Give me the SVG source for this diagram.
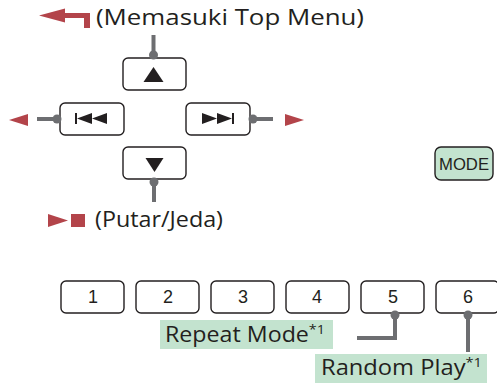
<svg xmlns="http://www.w3.org/2000/svg" width="497" height="383" viewBox="0 0 497 383">
<style>
.btn{fill:#fff;stroke:#231f20;stroke-width:1.4}
.mode{fill:#c3e3cf;stroke:#231f20;stroke-width:1.4}
.lbl{fill:#c3e3cf}
.t{font-family:"Open Sans","Noto Sans",sans-serif;font-size:21px;fill:#231f20}
.n{font-family:"Liberation Sans",Arial,sans-serif;font-size:18px;fill:#231f20;text-anchor:middle}
.m{font-family:"Liberation Sans",Arial,sans-serif;font-size:17px;fill:#231f20;text-anchor:middle}
.icon{fill:#231f20}
.red{fill:#b3444a}
.wire{stroke:#6d6e71;stroke-width:4;fill:none}
.dot{fill:#6d6e71}
</style>
<g id="top-menu-label">
<path class="red" d="M39,15.5 L65,8.5 L65,13 L90,13 L90,28 L84,28 L84,18 L65,18 L65,22.5 Z"/>
<text class="t" x="96" y="25" textLength="268" lengthAdjust="spacingAndGlyphs">(Memasuki Top Menu)</text>
</g>
<g id="btn-up">
<rect class="btn" x="123" y="58" width="63" height="32" rx="5"/>
<polygon class="icon" points="153.5,67 163.5,82 143.5,82"/>
</g>
<g id="btn-prev">
<rect class="btn" x="60" y="103" width="64" height="32" rx="5"/>
<rect class="icon" x="75" y="113" width="2" height="11"/>
<polygon class="icon" points="77,118.5 92,113 92,124"/>
<polygon class="icon" points="92,118.5 107,113 107,124"/>
</g>
<g id="btn-next">
<rect class="btn" x="186" y="103" width="64" height="32" rx="5"/>
<polygon class="icon" points="202,113 217,118.5 202,124"/>
<polygon class="icon" points="217,113 232,118.5 217,124"/>
<rect class="icon" x="232" y="113" width="2" height="11"/>
</g>
<g id="btn-down">
<rect class="btn" x="123" y="147" width="63" height="32" rx="5"/>
<polygon class="icon" points="145.5,158 163.5,158 154.5,172"/>
</g>
<g id="play-pause-label">
<polygon class="red" points="48,214 68,220.5 48,227"/>
<rect class="red" x="71" y="214" width="14" height="13"/>
<text class="t" x="95" y="227" textLength="128" lengthAdjust="spacingAndGlyphs">(Putar/Jeda)</text>
</g>
<g id="prev-arrow"><polygon class="red" points="9,120 28,114 28,126"/></g>
<g id="next-arrow"><polygon class="red" points="304,120 285,114 285,126"/></g>
<g id="btn-mode">
<rect class="mode" x="435" y="147" width="58" height="33" rx="6"/>
<text class="m" x="464" y="169.5" textLength="50" lengthAdjust="spacingAndGlyphs">MODE</text>
</g>
<g id="btn-1"><rect class="btn" x="61" y="281" width="63" height="32" rx="5"/><text class="n" x="93" y="303">1</text></g>
<g id="btn-2"><rect class="btn" x="136" y="281" width="63" height="32" rx="5"/><text class="n" x="168" y="303">2</text></g>
<g id="btn-3"><rect class="btn" x="211" y="281" width="63" height="32" rx="5"/><text class="n" x="243" y="303">3</text></g>
<g id="btn-4"><rect class="btn" x="286" y="281" width="63" height="32" rx="5"/><text class="n" x="317" y="303">4</text></g>
<g id="btn-5"><rect class="btn" x="361" y="281" width="63" height="32" rx="5"/><text class="n" x="393" y="303">5</text></g>
<g id="btn-6"><rect class="btn" x="436" y="281" width="63" height="32" rx="5"/><text class="n" x="468" y="303">6</text></g>
<g id="repeat-label">
<rect class="lbl" x="160" y="320" width="173" height="29"/>
<text class="t" x="165" y="342" textLength="160" lengthAdjust="spacingAndGlyphs">Repeat Mode<tspan font-size="13" dy="-8">*1</tspan></text>
</g>
<g id="random-label">
<rect class="lbl" x="315" y="354" width="172" height="29"/>
<text class="t" x="321" y="375" textLength="161" lengthAdjust="spacingAndGlyphs">Random Play<tspan font-size="13" dy="-8">*1</tspan></text>
</g>
<g id="connectors">
<path class="wire" d="M153.5,35 V55"/><circle class="dot" cx="153.5" cy="55" r="4.5"/>
<path class="wire" d="M37,119 H57"/><circle class="dot" cx="57" cy="119" r="4.5"/>
<path class="wire" d="M253,119 H273"/><circle class="dot" cx="253" cy="119" r="4.5"/>
<path class="wire" d="M154,182 V202"/><circle class="dot" cx="154" cy="182" r="4.5"/>
<path class="wire" d="M395,315 V338 H357"/><circle class="dot" cx="395" cy="315" r="4.5"/>
<path class="wire" d="M468,315 V352"/><circle class="dot" cx="468" cy="315" r="4.5"/>
</g>
</svg>
